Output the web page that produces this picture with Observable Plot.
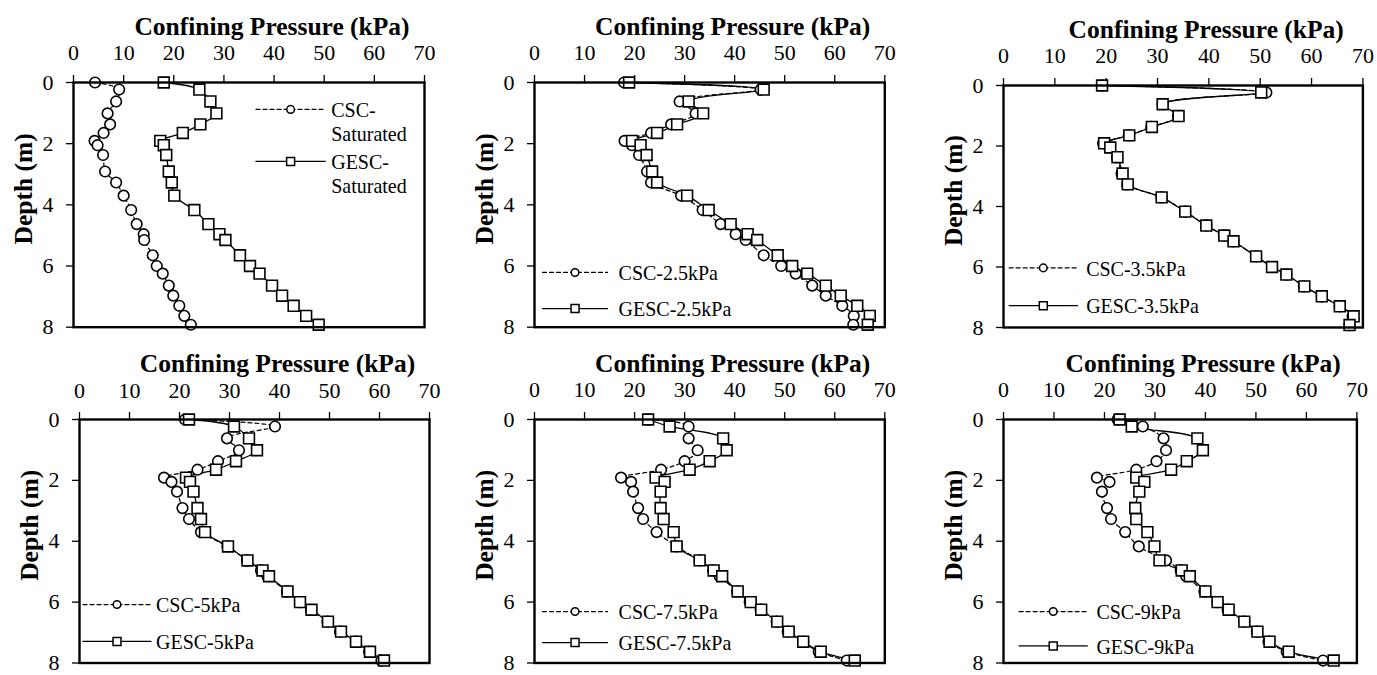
<!DOCTYPE html>
<html>
<head>
<meta charset="utf-8">
<script src="https://cdn.jsdelivr.net/npm/d3@7"></script>
<script src="https://cdn.jsdelivr.net/npm/@observablehq/plot@0.6"></script>
<style>
  html, body { margin: 0; padding: 0; background: white; }
  #chart { position: relative; width: 1377px; height: 675px; overflow: hidden; background: white; }
  #chart svg { position: absolute; overflow: visible; }
  #chart svg text { font-family: "Liberation Serif", "DejaVu Serif", serif; }
</style>
</head>
<body>
<div id="chart"></div>
<script>
// ---- data ----
const depth = [0, 0.23, 0.62, 1.01, 1.37, 1.65, 1.91, 2.05, 2.37, 2.91, 3.27, 3.7, 4.17, 4.63, 4.96, 5.15, 5.65, 6.0, 6.25, 6.64, 6.97, 7.3, 7.63, 7.92];
const xTicks = [0, 10, 20, 30, 40, 50, 60, 70];
const yTicks = [0, 2, 4, 6, 8];
const xTitle = "Confining Pressure (kPa)";
const yTitle = "Depth (m)";

const cscSat  = [4.3, 9.1, 8.5, 6.8, 7.3, 6.0, 4.2, 4.8, 5.9, 6.3, 8.5, 10.0, 11.5, 12.6, 14.0, 14.1, 15.8, 16.6, 17.8, 19.0, 19.9, 21.1, 22.1, 23.4];
const gescSat = [18.0, 25.1, 27.3, 28.5, 25.3, 21.8, 17.3, 18.0, 18.5, 19.0, 19.6, 20.1, 24.1, 26.9, 29.1, 30.3, 33.2, 35.2, 37.1, 39.6, 41.6, 43.9, 46.4, 48.9];
const csc25   = [17.9, 45.2, 29.0, 32.2, 27.3, 23.3, 18.0, 19.5, 20.9, 22.5, 23.3, 29.3, 33.6, 37.2, 40.2, 42.2, 45.8, 49.3, 52.2, 55.5, 58.2, 61.5, 63.8, 63.7];
const gesc25  = [18.9, 45.8, 30.8, 33.7, 28.5, 24.5, 19.5, 21.2, 22.4, 23.5, 24.5, 30.5, 34.8, 39.2, 42.6, 44.5, 48.6, 51.5, 54.5, 58.2, 61.2, 64.5, 67.0, 66.6];
const csc35   = [19.2, 51.2, 31.0, 34.0, 28.8, 24.4, 19.4, 20.6, 22.1, 23.0, 24.1, 30.8, 35.4, 39.5, 43.0, 44.8, 49.2, 52.3, 55.1, 58.5, 62.0, 65.5, 68.0, 67.4];
const gesc35  = [19.2, 50.2, 31.0, 34.1, 28.9, 24.5, 19.6, 20.8, 22.2, 23.2, 24.2, 30.8, 35.4, 39.5, 43.0, 44.8, 49.2, 52.3, 55.1, 58.6, 62.0, 65.5, 68.2, 67.4];
const csc5    = [21.1, 39.1, 29.5, 31.9, 27.7, 23.6, 16.9, 18.4, 19.5, 20.6, 21.9, 24.3, 29.6, 33.5, 36.3, 37.6, 41.5, 44.1, 46.3, 49.6, 52.1, 55.3, 57.9, 60.4];
const gesc5   = [21.9, 30.9, 33.9, 35.5, 31.3, 27.3, 21.3, 22.1, 22.8, 23.6, 24.3, 25.1, 29.7, 33.6, 36.6, 37.9, 41.6, 44.1, 46.4, 49.7, 52.3, 55.3, 58.1, 60.9];
const csc75   = [22.7, 30.8, 30.8, 32.6, 30.0, 25.3, 17.3, 19.3, 19.7, 20.7, 21.7, 24.4, 28.4, 33.0, 35.7, 37.0, 40.5, 43.0, 45.2, 48.4, 50.6, 53.7, 56.8, 62.4];
const gesc75  = [22.7, 27.0, 37.7, 38.4, 35.0, 31.0, 24.2, 26.0, 25.2, 25.2, 25.8, 27.8, 28.4, 33.0, 35.8, 37.5, 40.6, 43.2, 45.3, 48.5, 50.8, 53.7, 57.2, 64.0];
const csc9    = [22.6, 27.6, 31.7, 32.2, 30.3, 26.3, 18.5, 21.0, 19.5, 20.5, 21.3, 24.1, 26.8, 32.2, 35.1, 36.2, 39.8, 42.4, 44.4, 47.7, 50.2, 52.5, 56.1, 63.3];
const gesc9   = [23.0, 25.4, 38.4, 39.5, 36.3, 33.2, 26.3, 27.9, 26.9, 26.1, 26.3, 28.5, 29.9, 30.9, 35.3, 36.9, 40.0, 42.4, 44.6, 47.7, 50.3, 52.7, 56.5, 65.4];

const cscLabels  = ["CSC-\nSaturated", "CSC-2.5kPa", "CSC-3.5kPa", "CSC-5kPa", "CSC-7.5kPa", "CSC-9kPa"];
const gescLabels = ["GESC-\nSaturated", "GESC-2.5kPa", "GESC-3.5kPa", "GESC-5kPa", "GESC-7.5kPa", "GESC-9kPa"];
const cscSeries  = [cscSat, csc25, csc35, csc5, csc75, csc9];
const gescSeries = [gescSat, gesc25, gesc35, gesc5, gesc75, gesc9];

// ---- layout (pixels) ----
const frames = [
  {left: 73.3,  top: 82,    width: 351,   height: 244.7},
  {left: 534,   top: 82,    width: 350.3, height: 244.7},
  {left: 1003.3,top: 84.7,  width: 359.4, height: 242},
  {left: 78.7,  top: 419.2, width: 350,   height: 243.5},
  {left: 534,   top: 419.2, width: 350.3, height: 243.5},
  {left: 1003.3,top: 419.2, width: 353.4, height: 243.5}
];
// legend placement in data units: line from x1 to x2, text at xt, rows at y1 and y2
const legends = [
  {x1: 36.4, x2: 50.2, xt: 51.4, y1: 0.88, y2: 2.58},
  {x1: 1.6,  x2: 14.6, xt: 16.8, y1: 6.21, y2: 7.39},
  {x1: 1.1,  x2: 14.4, xt: 16.1, y1: 6.03, y2: 7.28},
  {x1: 0.7,  x2: 14.3, xt: 15.3, y1: 6.08, y2: 7.29},
  {x1: 1.6,  x2: 14.6, xt: 16.8, y1: 6.31, y2: 7.33},
  {x1: 3.1,  x2: 16.6, xt: 18.4, y1: 6.31, y2: 7.44}
];

const ML = 73, MT = 82, MR = 14, MB = 10;
const font = "Liberation Serif";
const container = document.getElementById("chart");

cscSeries.forEach((csc, i) => {
  const f = frames[i];
  const lg = legends[i];
  const cscData = depth.map((d, j) => ({x: csc[j], y: d}));
  const gescData = depth.map((d, j) => ({x: gescSeries[i][j], y: d}));
  const multi = cscLabels[i].includes("\n");
  const textShift = multi ? 11.5 : 0;

  const legLine = (yv) => [{x: lg.x1, y: yv}, {x: lg.x2, y: yv}];
  const legMid = (yv) => [{x: (lg.x1 + lg.x2) / 2, y: yv}];

  const plot = Plot.plot({
    width: ML + f.width + MR,
    height: MT + f.height + MB,
    marginLeft: ML, marginTop: MT, marginRight: MR, marginBottom: MB,
    style: {fontFamily: font, background: "transparent", color: "black", overflow: "visible"},
    x: {domain: [0, 70]},
    y: {domain: [0, 8], reverse: true},
    marks: [
      Plot.axisX({anchor: "top", ticks: xTicks, tickSize: 8, tickPadding: 14, fontSize: 22, fontFamily: font, label: null, strokeWidth: 1.3}),
      Plot.axisY({anchor: "left", ticks: yTicks, tickSize: 7, tickPadding: 13, fontSize: 22, fontFamily: font, label: null, strokeWidth: 1.3}),
      Plot.text([xTitle], {frameAnchor: "top", textAnchor: "middle", lineAnchor: "middle", dx: 23, dy: -56, fontSize: 25.5, fontFamily: font, fontWeight: "bold", fill: "black"}),
      Plot.text([yTitle], {frameAnchor: "left", textAnchor: "middle", lineAnchor: "middle", rotate: -90, dx: -50, dy: -16, fontSize: 25.5, fontFamily: font, fontWeight: "bold", fill: "black"}),
      // series
      Plot.line(cscData, {x: "x", y: "y", stroke: "black", strokeWidth: 1.2, strokeDasharray: "4,3", curve: "catmull-rom"}),
      Plot.line(gescData, {x: "x", y: "y", stroke: "black", strokeWidth: 1.3, curve: "catmull-rom"}),
      Plot.dot(cscData, {x: "x", y: "y", symbol: "circle", r: 5.3, stroke: "black", strokeWidth: 1.6, fill: "white"}),
      Plot.dot(gescData, {x: "x", y: "y", symbol: "square", r: 6.1, stroke: "black", strokeWidth: 1.6, fill: "white"}),
      // legend
      Plot.line(legLine(lg.y1), {x: "x", y: "y", stroke: "black", strokeWidth: 1.2, strokeDasharray: "4,3"}),
      Plot.dot(legMid(lg.y1), {x: "x", y: "y", symbol: "circle", r: 3.8, stroke: "black", strokeWidth: 1.5, fill: "white"}),
      Plot.line(legLine(lg.y2), {x: "x", y: "y", stroke: "black", strokeWidth: 1.3}),
      Plot.dot(legMid(lg.y2), {x: "x", y: "y", symbol: "square", r: 4.5, stroke: "black", strokeWidth: 1.5, fill: "white"}),
      Plot.text([{x: lg.xt, y: lg.y1}], {x: "x", y: "y", text: () => cscLabels[i], textAnchor: "start", lineAnchor: "middle", dy: textShift, lineHeight: 1.21, fontSize: 20, fontFamily: font, fill: "black"}),
      Plot.text([{x: lg.xt, y: lg.y2}], {x: "x", y: "y", text: () => gescLabels[i], textAnchor: "start", lineAnchor: "middle", dy: textShift, lineHeight: 1.21, fontSize: 20, fontFamily: font, fill: "black"}),
      Plot.frame({stroke: "black", strokeWidth: 2.4})
    ]
  });
  plot.style.left = (f.left - ML) + "px";
  plot.style.top = (f.top - MT) + "px";
  container.appendChild(plot);
});
</script>
</body>
</html>
